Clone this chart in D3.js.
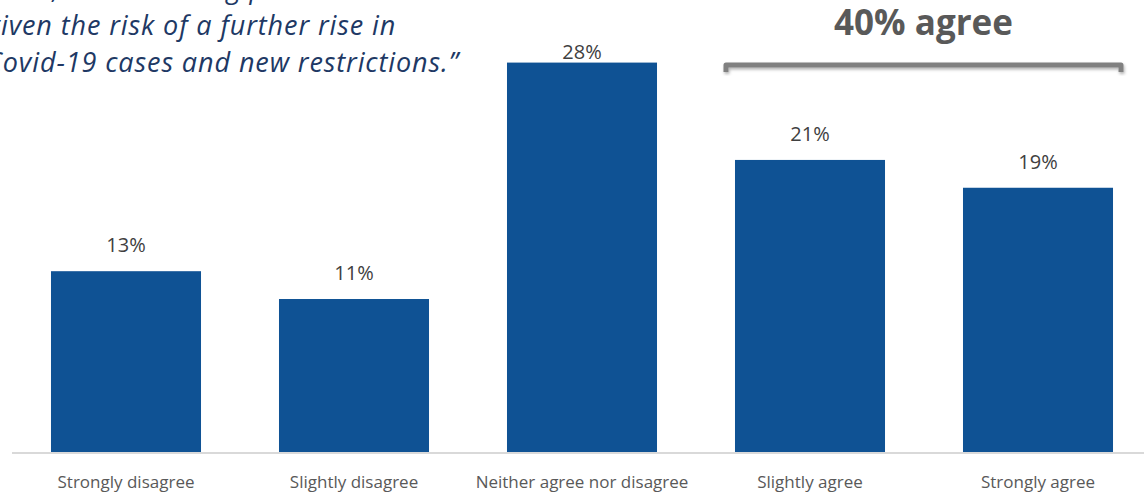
<!DOCTYPE html>
<html>
<head>
<meta charset="utf-8">
<script src="https://cdn.jsdelivr.net/npm/d3@7"></script>
<style>
  html, body { margin: 0; padding: 0; background: #fff; overflow: hidden; }
  svg { display: block; }
</style>
</head>
<body>
<svg id="chart" width="1144" height="492"></svg>
<script>
// answers and their share of respondents (%)
const categories = ["Strongly disagree", "Slightly disagree", "Neither agree nor disagree", "Slightly agree", "Strongly agree"];
const shares = [13, 11, 28, 21, 19];
const agreeGroup = ["Slightly agree", "Strongly agree"];
const agreeLabel = "40% agree";
const quoteLines = [
  "\u201CNow, I am avoiding plans",
  "given the risk of a further rise in",
  "Covid-19 cases and new restrictions.\u201D"
];

const W = 1144, H = 492;
const svg = d3.select("#chart");

const x = d3.scaleBand()
  .domain(categories)
  .range([12, 1152])
  .paddingInner(0.342)
  .paddingOuter(0.171);

const y = d3.scaleLinear()
  .domain([0, 32.5])
  .range([452, 0]);

// quote text, top-left (clipped by the frame)
const quote = svg.append("text")
  .attr("font-family", "Open Sans")
  .attr("font-style", "italic")
  .attr("font-size", 27)
  .attr("letter-spacing", 0.9)
  .attr("fill", "#203864");
quote.selectAll("tspan")
  .data(quoteLines)
  .enter().append("tspan")
  .attr("x", -14)
  .attr("y", (d, i) => -2 + i * 37)
  .text(d => d);

// bars
svg.selectAll(".bar")
  .data(shares)
  .enter().append("rect")
  .attr("class", "bar")
  .attr("x", (d, i) => x(categories[i]))
  .attr("y", d => y(d))
  .attr("width", x.bandwidth())
  .attr("height", d => y(0) - y(d))
  .attr("fill", "#0F5294");

// baseline
svg.append("line")
  .attr("x1", 12).attr("x2", W)
  .attr("y1", y(0) + 1).attr("y2", y(0) + 1)
  .attr("stroke", "#d9d9d9").attr("stroke-width", 2);

// value labels (Excel keeps them inside the plot area)
svg.selectAll(".val")
  .data(shares)
  .enter().append("text")
  .attr("class", "val")
  .attr("x", (d, i) => x(categories[i]) + x.bandwidth() / 2)
  .attr("y", d => Math.max(y(d) - 19, 59))
  .attr("text-anchor", "middle")
  .attr("font-family", "Open Sans")
  .attr("font-size", 20)
  .attr("fill", "#404040")
  .text(d => d + "%");

// category axis
const xAxis = svg.append("g")
  .attr("transform", `translate(0,${y(0)})`)
  .call(d3.axisBottom(x).tickSize(0).tickPadding(24));
xAxis.select(".domain").remove();
xAxis.selectAll("text")
  .attr("font-family", "Open Sans")
  .attr("font-size", 17)
  .attr("fill", "#595959");

// bracket over the agree bars
const defs = svg.append("defs");
const f = defs.append("filter").attr("id", "shadow")
  .attr("x", "-5%").attr("y", "-50%").attr("width", "110%").attr("height", "200%");
f.append("feDropShadow").attr("dx", 1).attr("dy", 2).attr("stdDeviation", 1.5)
  .attr("flood-color", "#000").attr("flood-opacity", 0.3);

const bx0 = x(agreeGroup[0]) - 9;
const bx1 = x(agreeGroup[1]) + x.bandwidth() + 8;
const by = 65;
svg.append("path")
  .attr("d", `M${bx0},${by + 7} V${by} H${bx1} V${by + 7}`)
  .attr("fill", "none")
  .attr("stroke", "#808080")
  .attr("stroke-width", 5)
  .attr("stroke-linejoin", "round")
  .attr("filter", "url(#shadow)");

svg.append("text")
  .attr("x", (bx0 + bx1) / 2)
  .attr("y", 35)
  .attr("text-anchor", "middle")
  .attr("font-family", "Open Sans")
  .attr("font-weight", "bold")
  .attr("font-size", 35)
  .attr("fill", "#595959")
  .text(agreeLabel);
</script>
</body>
</html>
